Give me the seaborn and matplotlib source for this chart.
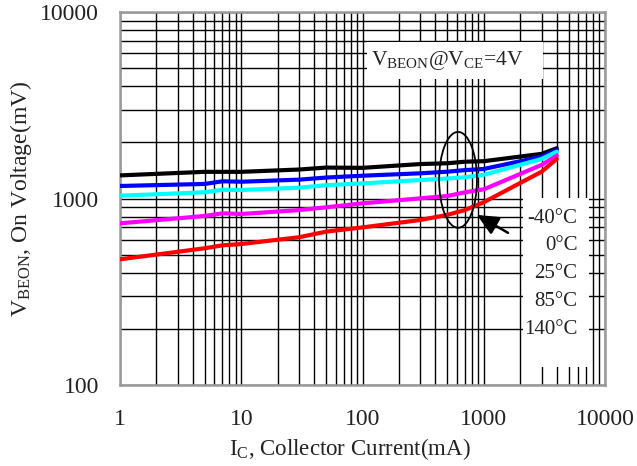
import numpy as np
import pandas as pd
import matplotlib
matplotlib.use("Agg")
import matplotlib.pyplot as plt
from matplotlib.patches import Ellipse, Rectangle
from matplotlib.ticker import LogLocator, FixedLocator, NullFormatter
import seaborn as sns

# ---- data ----
ic_ma = [1, 5, 7, 10, 30, 50, 100, 300, 500, 700, 1000, 3000, 4000]
v_m40 = [1330, 1390, 1390, 1390, 1430, 1465, 1460, 1530, 1545, 1575, 1585, 1735, 1860]
v_0 = [1167, 1197, 1237, 1230, 1262, 1295, 1325, 1365, 1392, 1420, 1440, 1676, 1820]
v_25 = [1035, 1080, 1114, 1111, 1143, 1178, 1205, 1256, 1280, 1300, 1340, 1629, 1782]
v_85 = [736, 806, 833, 826, 867, 897, 942, 1002, 1031, 1080, 1120, 1514, 1698]
v_140 = [472, 541, 561, 570, 620, 664, 700, 767, 817, 867, 955, 1392, 1630]
temps = ["-40°C", "0°C", "25°C", "85°C", "140°C"]
colors = ["#000000", "#0000ff", "#00ffff", "#ff00ff", "#ff0000"]
x_ticks = [1, 10, 100, 1000, 10000]
x_ticklabels = ["1", "10", "100", "1000", "10000"]
y_ticks = [100, 1000, 10000]
y_ticklabels = ["100", "1000", "10000"]

series = [v_m40, v_0, v_25, v_85, v_140]
df = pd.concat([pd.DataFrame({"Ic": ic_ma, "V": s, "T": t}) for s, t in zip(series, temps)])

sns.set_style("white")
plt.rcParams["font.family"] = ["Liberation Serif", "DejaVu Serif"]
plt.rcParams["mathtext.fontset"] = "custom"
plt.rcParams["mathtext.rm"] = "Liberation Serif"

fig = plt.figure(figsize=(6.37, 4.66), dpi=100)
ax = fig.add_axes([120/637, 1-385/466, 485/637, 373/466])

for t, c in zip(temps, colors):
    sub = df[df["T"] == t]
    sns.lineplot(data=sub, x="Ic", y="V", color=c, lw=3, ax=ax, legend=False,
                 sort=False, zorder=3)

ax.set_xscale("log")
ax.set_yscale("log")
ax.set_xlim(1, 10000)
ax.set_ylim(100, 10000)

ax.xaxis.set_major_locator(FixedLocator(x_ticks))
ax.set_xticklabels(x_ticklabels)
ax.yaxis.set_major_locator(FixedLocator(y_ticks))
ax.set_yticklabels(y_ticklabels)
ax.xaxis.set_minor_locator(LogLocator(base=10, subs=np.arange(2, 10)))
ax.yaxis.set_minor_locator(LogLocator(base=10, subs=np.arange(2, 10)))
ax.xaxis.set_minor_formatter(NullFormatter())
ax.yaxis.set_minor_formatter(NullFormatter())

ax.grid(True, which="both", color="black", lw=1.0)
ax.set_axisbelow(True)
ax.tick_params(which="major", length=0, labelsize=17, colors="#222222")
ax.tick_params(axis="x", which="major", pad=17)
ax.tick_params(axis="y", which="major", pad=15)
ax.tick_params(which="minor", length=0)
for sp in ax.spines.values():
    sp.set_color("#999999")
    sp.set_linewidth(1.8)

ax.set_xlabel(r"I$\mathregular{_C}$, Collector Current(mA)", fontsize=16.5, color="#222222")
ax.set_ylabel(r"V$\mathregular{_{BEON}}$, On Voltage(mV)", fontsize=17, color="#222222")
ax.xaxis.set_label_coords(0.474, -0.136)
ax.yaxis.set_label_coords(-0.178, 0.5)

# condition box
ax.add_patch(Rectangle((0.509, 0.820), 0.363, 0.100, transform=ax.transAxes,
                       facecolor="white", edgecolor="none", zorder=2))
ax.text(0.675, 0.870, r"V$\mathregular{_{BEON}}$@V$\mathregular{_{CE}}$=4V", transform=ax.transAxes,
        ha="center", va="center", fontsize=15.5, color="#222222", zorder=4)

# legend box
ax.add_patch(Rectangle((0.831, 0.048), 0.136, 0.453, transform=ax.transAxes,
                       facecolor="white", edgecolor="none", zorder=2))
ys = [218, 245, 273, 301, 330]
for t, yp in zip(temps, ys):
    ax.text(0.943, 1-(yp-12)/373, t, transform=ax.transAxes, ha="right", va="center",
            fontsize=15, color="#222222", zorder=4)

# ellipse and arrow
ax.add_patch(Ellipse((0.697, 0.550), 0.078, 0.257, transform=ax.transAxes,
                     facecolor="none", edgecolor="black", lw=1.3, zorder=4))
ax.annotate("", xy=(0.736, 0.456), xytext=(0.800, 0.408),
            xycoords="axes fraction", textcoords="axes fraction",
            arrowprops=dict(arrowstyle="-|>,head_length=1.3,head_width=0.6",
                            color="black", lw=1.8, shrinkA=0, shrinkB=0), zorder=5)

fig.savefig("out.png", dpi=100)
